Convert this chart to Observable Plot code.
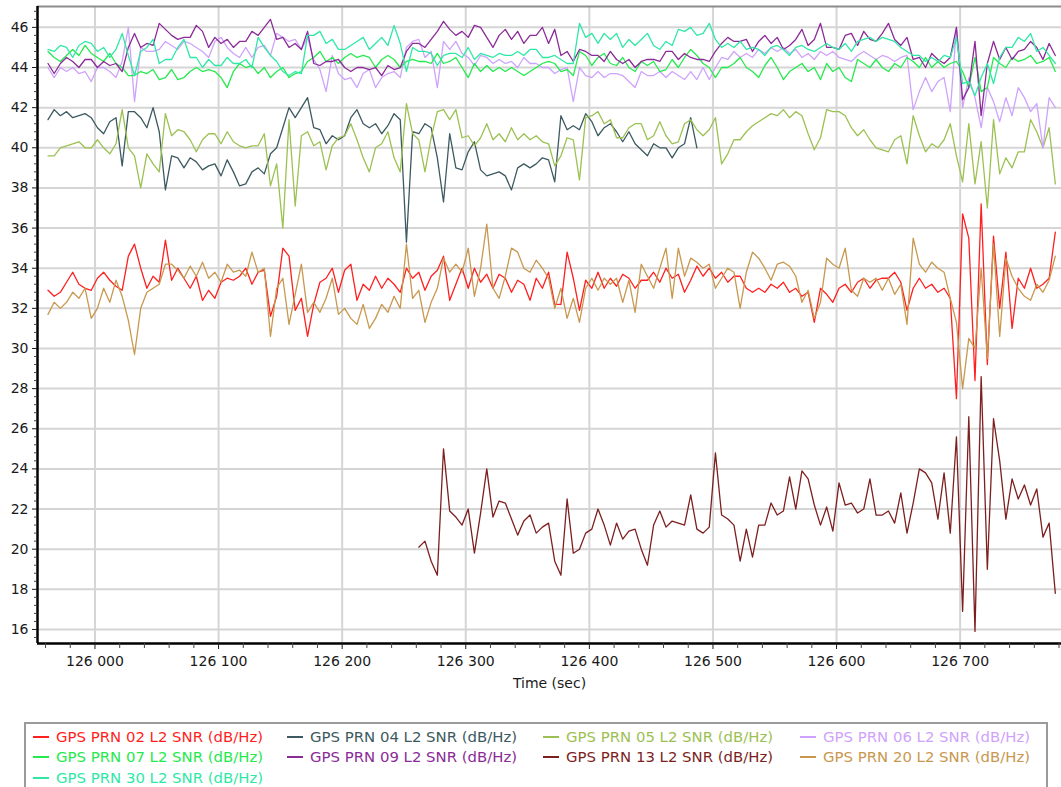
<!DOCTYPE html>
<html>
<head>
<meta charset="utf-8">
<script src="https://cdn.jsdelivr.net/npm/d3@7"></script>
<script src="https://cdn.jsdelivr.net/npm/@observablehq/plot@0.6"></script>
<style>
  html, body { margin: 0; padding: 0; background: #fff; }
  body { width: 1061px; height: 787px; overflow: hidden; position: relative; font-family: "DejaVu Sans", Verdana, sans-serif; }
  #chart svg { display: block; }
  #legend { position: absolute; left: 24px; top: 722px; width: 1024px; height: 80px; border: 2px solid #9a9a9a; box-sizing: border-box; }
  .item { position: absolute; font-size: 14.9px; white-space: nowrap; line-height: 18px; }
  .item .sw { display: inline-block; width: 16px; height: 2px; vertical-align: middle; margin-right: 7px; position: relative; top: -1px; }
</style>
</head>
<body>
<div id="chart"></div>
<div id="legend"></div>
<script>
// ---- data (sampled every 5 s starting at t0) ----
const t0 = 125962;
const dt = 5;
const seriesNames = [
  "GPS PRN 02 L2 SNR (dB/Hz)", "GPS PRN 04 L2 SNR (dB/Hz)", "GPS PRN 05 L2 SNR (dB/Hz)",
  "GPS PRN 06 L2 SNR (dB/Hz)", "GPS PRN 07 L2 SNR (dB/Hz)", "GPS PRN 09 L2 SNR (dB/Hz)",
  "GPS PRN 13 L2 SNR (dB/Hz)", "GPS PRN 20 L2 SNR (dB/Hz)", "GPS PRN 30 L2 SNR (dB/Hz)"
];
const seriesColors = ["#ff1f1f", "#3c5a60", "#9cc152", "#cfa3fb", "#24ea4e", "#8b2b98", "#7d1f1f", "#c9984f", "#30e8a6"];
const seriesStartIndex = [0, 0, 0, 0, 0, 0, 60, 0, 0];

const prn02 = [
  32.9,32.6,32.8,33.3,33.8,33.2,33.0,32.9,33.5,33.8,
  33.4,33.1,32.9,34.6,35.2,34.0,33.0,33.6,33.3,35.4,
  33.4,34.0,33.5,33.0,33.6,32.4,32.9,32.5,33.3,33.5,
  33.4,33.6,34.0,33.2,33.8,33.9,31.6,32.6,35.0,34.6,
  31.9,32.5,30.6,32.2,33.3,33.5,34.0,32.8,33.9,34.2,
  32.4,33.2,32.9,33.6,33.0,33.5,33.2,32.8,34.0,33.5,
  33.8,32.9,33.6,33.9,34.6,32.4,33.2,34.0,33.0,34.0,
  33.3,33.7,33.0,33.7,33.5,32.8,33.4,33.2,32.4,33.5,
  33.0,33.8,32.2,32.2,34.8,33.5,31.9,33.4,33.0,33.8,
  33.0,33.5,33.1,33.7,33.5,33.0,33.4,33.4,33.8,33.3,
  34.0,33.5,33.7,32.8,33.4,34.1,33.6,34.0,33.5,33.8,
  33.3,33.6,33.6,33.0,32.8,33.0,32.8,33.2,33.0,33.3,
  32.8,33.0,32.6,32.8,31.3,33.0,32.7,32.3,33.0,33.2,
  32.8,33.3,33.5,33.0,33.4,33.5,33.5,33.8,33.3,31.9,
  33.0,33.5,33.0,33.2,32.8,33.0,32.5,27.5,36.7,35.5,
  28.4,37.2,29.2,35.6,32.0,34.8,31.0,33.5,33.0,34.0,
  33.0,33.2,33.5,35.8
];
const prn04 = [
  41.4,41.9,41.6,41.8,41.5,41.6,41.7,41.5,41.0,40.7,
  41.3,41.5,39.1,41.8,41.8,41.5,41.0,42.0,40.8,37.9,
  39.6,39.5,39.0,39.5,39.3,38.9,39.1,39.2,38.6,39.4,
  38.8,38.1,38.2,38.8,39.0,38.7,39.7,40.0,41.0,42.0,
  41.5,42.0,42.5,41.0,40.9,40.2,40.6,40.4,40.6,41.5,
  41.9,41.2,41.0,41.2,40.7,41.1,41.7,41.4,35.3,40.8,
  40.7,41.2,41.0,39.5,37.3,40.7,39.0,38.9,39.8,40.3,
  38.9,38.6,38.7,38.8,38.6,37.9,39.0,39.2,39.0,39.2,
  39.5,39.4,38.3,41.6,40.9,41.1,40.9,41.7,41.3,40.6,
  41.0,41.2,40.8,40.3,40.8,40.2,39.9,39.6,40.2,40.0,
  40.0,39.5,40.0,40.2,41.5,40.0
];
const prn05 = [
  39.6,39.6,40.0,40.1,40.2,40.3,40.0,40.0,40.4,40.0,
  39.7,40.2,41.9,40.0,39.6,38.0,39.7,39.2,38.8,41.7,
  40.6,40.9,40.8,40.4,39.8,40.4,40.7,40.7,40.2,40.8,
  40.3,40.1,40.0,40.1,40.1,40.7,38.1,39.2,36.0,41.4,
  37.1,40.6,40.8,40.1,40.3,38.9,40.1,40.5,40.6,41.2,
  40.4,39.5,38.8,40.0,40.2,40.8,39.5,38.8,42.2,40.7,
  40.4,38.8,40.5,41.8,41.9,41.4,41.9,40.5,40.6,40.1,
  40.5,41.2,40.4,40.7,40.3,41.0,40.4,40.7,40.4,40.6,
  40.3,40.2,39.1,39.6,40.5,40.4,38.4,41.5,41.6,41.8,
  41.2,41.4,40.5,40.5,41.0,41.2,41.2,40.4,40.6,41.3,
  40.6,40.2,40.3,41.2,41.4,40.9,40.6,40.9,41.5,39.2,
  39.7,40.4,40.4,40.8,41.1,41.3,41.5,41.7,41.6,41.9,
  41.5,41.8,41.6,40.7,39.9,40.5,41.9,41.8,41.8,41.6,
  41.0,40.6,40.9,40.4,40.0,39.9,39.8,40.4,40.6,39.2,
  41.6,40.6,39.8,40.2,40.0,40.4,41.2,39.6,38.3,41.2,
  38.2,40.3,37.0,41.4,38.7,39.5,39.0,39.8,39.8,41.4,
  40.8,40.0,41.0,38.2
];
const prn06 = [
  44.0,43.5,44.0,43.8,44.0,43.7,43.8,43.3,44.0,44.0,
  43.8,43.5,44.3,46.0,42.3,45.0,44.8,44.8,44.9,45.3,
  45.1,44.9,45.3,45.2,45.0,44.8,44.5,45.3,45.5,45.0,
  44.7,44.5,45.0,44.5,45.0,45.1,44.6,45.7,45.5,45.3,
  45.4,44.9,45.5,44.4,43.9,42.8,44.6,43.7,43.4,43.5,
  43.0,43.7,43.9,43.0,43.5,43.7,43.8,43.5,45.0,45.3,
  45.4,44.5,44.8,43.0,45.3,44.9,45.3,44.7,44.5,44.1,
  44.6,44.5,44.2,44.4,44.2,44.3,44.0,44.5,44.2,44.2,
  44.0,44.0,43.7,43.9,44.0,42.3,44.0,43.6,43.5,43.8,
  43.5,43.7,43.7,43.6,43.3,43.0,43.8,43.6,43.6,43.8,
  43.5,43.8,43.6,43.4,43.8,43.4,44.0,43.4,44.0,44.5,
  44.4,44.8,44.5,44.7,44.5,44.9,44.7,45.0,44.8,45.0,
  44.7,44.9,44.5,44.7,44.4,44.8,44.6,44.8,44.5,44.4,
  44.3,44.6,44.8,44.6,44.4,44.6,44.5,44.3,44.5,44.6,
  41.9,42.8,43.5,42.8,43.3,43.5,41.8,46.0,42.0,43.5,
  42.5,41.0,43.0,42.3,41.3,42.5,41.6,43.0,42.5,41.8,
  42.2,40.0,42.5,42.0
];
const prn07 = [
  44.8,44.5,44.3,44.6,44.9,44.6,45.1,44.7,44.5,44.3,
  44.7,44.2,44.0,43.6,43.6,43.8,43.7,43.9,43.4,43.5,
  43.9,43.4,43.5,43.8,44.0,43.8,43.9,43.8,43.5,43.0,
  43.8,44.2,44.0,44.1,43.7,44.0,43.5,43.8,44.0,43.5,
  43.7,43.8,44.3,44.5,44.8,44.3,44.5,44.2,44.5,44.7,
  44.5,44.6,44.5,44.0,44.4,44.6,44.4,44.0,44.3,44.4,
  44.3,44.3,44.2,44.7,44.2,44.3,44.5,44.0,43.5,44.2,
  43.8,44.1,43.8,44.0,43.8,44.0,43.8,43.6,43.8,44.0,
  44.2,44.3,44.2,43.8,43.9,43.6,44.8,44.6,44.1,44.5,
  44.7,44.2,44.1,44.5,44.0,43.8,44.3,44.1,44.3,43.8,
  43.9,44.4,44.0,44.5,44.9,44.6,44.2,44.0,43.5,44.0,
  44.0,44.2,44.5,44.0,43.8,43.5,44.1,44.5,44.0,43.4,
  43.8,44.0,44.2,43.8,44.0,43.4,44.2,43.8,44.0,43.5,
  43.3,44.4,44.2,44.0,44.4,44.0,43.8,44.2,44.0,44.5,
  44.3,44.0,44.5,44.0,44.3,44.0,44.2,44.3,43.8,43.0,
  44.5,42.8,43.0,44.5,44.2,44.0,44.5,44.3,44.4,44.6,
  44.2,44.3,44.5,43.8
];
const prn09 = [
  44.2,43.7,44.2,44.5,44.3,44.0,44.4,44.4,44.0,44.3,
  44.1,44.2,43.8,45.0,45.7,45.0,45.2,45.1,46.2,45.9,
  45.6,45.4,45.5,45.5,46.1,45.8,45.0,45.5,45.2,45.4,
  45.0,45.3,45.3,45.8,45.6,46.0,46.4,45.4,45.5,45.0,
  45.2,44.9,45.8,44.2,44.1,44.3,44.3,44.4,44.0,43.8,
  44.0,44.0,43.9,44.0,43.6,44.1,43.9,44.0,44.8,45.2,
  45.2,45.0,45.4,45.8,46.3,45.9,45.6,45.8,45.5,46.1,
  46.0,45.5,45.0,45.6,45.9,45.4,45.8,45.2,45.6,45.6,
  46.0,45.2,45.9,44.6,44.8,44.3,44.9,44.8,44.6,44.6,
  44.3,44.8,44.4,44.2,44.4,44.0,44.3,44.4,44.4,44.3,
  44.8,44.8,44.4,44.7,44.5,44.4,44.4,44.3,44.8,45.2,
  45.5,45.3,45.3,45.4,44.8,45.3,45.6,45.2,45.5,44.9,
  45.1,45.4,45.9,45.1,45.4,46.2,45.0,45.0,44.9,45.6,
  45.7,45.1,45.8,45.4,45.3,45.7,46.2,45.4,45.1,45.5,
  44.4,44.5,44.0,44.7,44.4,44.2,44.5,46.0,42.4,43.0,
  45.3,41.6,44.2,45.3,44.4,45.0,44.4,44.8,44.9,45.3,
  45.0,44.4,45.2,44.6
];
const prn13 = [
  20.1,20.4,19.4,18.7,25.0,21.9,21.6,21.2,22.0,19.8,
  21.8,24.0,21.6,22.4,22.3,21.5,20.7,21.4,21.7,20.8,
  21.1,21.3,19.4,18.7,22.5,19.8,20.0,20.8,21.0,22.0,
  21.2,20.2,21.3,20.5,20.9,21.0,20.0,19.2,21.2,21.9,
  21.1,21.4,21.3,21.2,22.7,21.0,20.8,21.1,24.8,21.7,
  21.5,21.2,19.4,21.0,19.6,21.2,21.2,22.3,21.7,21.9,
  23.6,22.0,23.9,23.5,22.2,21.2,22.1,20.9,23.3,22.2,
  22.3,21.8,22.0,23.5,21.7,21.7,21.9,21.3,22.8,20.8,
  22.3,24.0,23.8,23.3,21.5,23.8,20.8,25.6,16.9,26.6,
  15.9,28.6,19.0,26.5,24.4,21.5,23.5,22.5,23.2,22.2,
  23.0,20.6,21.3,17.8
];
const prn20 = [
  31.7,32.3,32.0,32.3,32.8,32.5,33.0,31.5,32.0,33.0,
  32.3,33.4,32.6,31.4,29.7,32.0,32.8,33.0,33.2,34.2,
  34.2,33.9,33.5,34.1,33.6,34.3,33.5,33.8,33.3,34.2,
  33.8,33.9,33.6,34.8,33.8,34.0,30.6,33.0,33.5,31.2,
  32.7,34.2,31.8,32.3,31.8,32.5,33.5,31.7,32.0,31.5,
  31.2,32.2,31.0,31.5,32.2,31.8,32.6,32.0,35.2,32.5,
  32.9,31.3,32.3,33.0,34.5,33.8,34.2,33.8,35.0,32.6,
  34.0,36.2,33.0,32.5,33.6,35.0,34.8,34.0,33.8,34.4,
  34.0,33.5,32.0,33.0,31.5,32.5,31.3,33.0,33.5,32.9,
  33.5,33.2,33.5,32.3,33.4,31.8,34.2,33.6,33.0,34.0,
  35.0,32.5,35.0,33.6,34.5,34.3,34.0,34.2,33.0,33.5,
  34.0,33.8,32.0,33.8,34.8,34.5,34.0,33.4,34.2,34.3,
  34.1,33.6,32.3,32.9,31.5,32.3,34.5,34.2,34.0,35.0,
  32.9,32.6,33.5,33.3,33.5,32.9,33.5,32.7,33.2,31.2,
  35.5,34.2,33.8,34.3,34.0,33.8,32.5,31.3,28.0,30.5,
  30.0,34.0,29.5,35.2,30.6,34.5,33.6,33.0,32.6,32.4,
  33.2,32.8,33.4,34.6
];
const prn30 = [
  44.9,44.8,45.1,45.0,44.5,45.1,45.3,45.2,44.8,45.0,
  44.5,44.9,45.7,44.6,43.6,44.8,45.0,45.4,44.2,44.4,
  44.4,45.0,45.4,44.5,44.5,44.0,44.4,44.1,44.1,44.5,
  44.2,44.2,44.4,44.0,45.5,45.0,44.6,44.3,43.8,43.6,
  43.8,43.7,45.6,45.6,45.8,45.2,45.4,44.9,44.9,45.1,
  45.3,45.5,44.9,45.2,45.5,45.1,46.1,45.2,43.8,45.0,
  44.8,44.8,44.7,44.1,44.6,44.7,44.7,44.5,45.0,44.4,
  44.7,44.6,44.5,44.7,44.6,44.6,44.8,44.6,44.9,44.9,
  44.5,44.5,44.6,44.4,44.2,44.2,46.2,45.5,45.7,45.2,
  45.7,45.4,45.7,45.0,45.4,45.1,45.4,45.7,45.1,44.9,
  45.3,45.1,45.9,45.8,46.0,45.6,45.7,46.2,45.4,45.0,
  45.2,45.0,45.3,44.9,45.0,44.9,44.6,45.0,45.1,44.9,
  44.6,45.0,45.1,44.9,44.8,45.0,45.2,45.0,44.9,45.2,
  44.8,45.3,45.4,45.5,45.3,45.5,45.4,45.3,45.0,44.8,
  44.6,44.6,44.3,44.5,44.3,44.6,44.5,45.5,43.2,43.3,
  42.6,43.5,44.2,43.2,44.5,45.0,45.0,45.5,45.3,45.7,
  44.8,45.0,44.6,44.2
];
const seriesValues = [prn02, prn04, prn05, prn06, prn07, prn09, prn13, prn20, prn30];

const xTickValues = [126000, 126100, 126200, 126300, 126400, 126500, 126600, 126700];
const yTickValues = [16, 18, 20, 22, 24, 26, 28, 30, 32, 34, 36, 38, 40, 42, 44, 46];
const xDomain = [125953.5, 126782];
const yDomain = [15.3, 47.04];

// ---- build table ----
const rows = [];
seriesNames.forEach((name, k) => {
  seriesValues[k].forEach((v, i) => {
    rows.push({t: t0 + (seriesStartIndex[k] + i) * dt, v, name});
  });
});

const xMinor = d3.range(125960, 126782, 20).filter(d => !xTickValues.includes(d));
const yMinor = d3.range(15.6, 47.0, 0.4).map(d => +d.toFixed(1)).filter(d => !yTickValues.includes(d));
const fmtX = d => String(d).replace(/(\d{3})$/, " $1");

const chart = Plot.plot({
  width: 1061,
  height: 712,
  marginLeft: 37,
  marginRight: 0,
  marginTop: 6,
  marginBottom: 69,
  style: {fontFamily: "DejaVu Sans, Verdana, sans-serif", fontSize: "14px", color: "#1a1a1a", background: "#fff"},
  x: {domain: xDomain, label: null},
  y: {domain: yDomain, label: null},
  color: {domain: seriesNames, range: seriesColors},
  marks: [
    Plot.gridY({ticks: yTickValues, stroke: "#d5d5d5", strokeWidth: 2, strokeOpacity: 1}),
    Plot.gridX({ticks: xTickValues, stroke: "#d5d5d5", strokeWidth: 2, strokeOpacity: 1}),
    Plot.ruleY([yDomain[1]], {stroke: "#8c8c8c", strokeWidth: 2}),
    Plot.lineY(rows, {x: "t", y: "v", z: "name", stroke: "name", strokeWidth: 1.3, clip: true}),
    Plot.ruleX([xDomain[0]], {stroke: "#000", strokeWidth: 2.5}),
    Plot.ruleY([yDomain[0]], {stroke: "#000", strokeWidth: 2.5}),
    Plot.axisY({ticks: yMinor, tickSize: 3, tickFormat: () => "", label: null, stroke: "#444"}),
    Plot.axisY({ticks: yTickValues, tickSize: 5, tickPadding: 4, tickFormat: d => String(d), label: null}),
    Plot.axisX({ticks: xMinor, tickSize: 5, tickFormat: () => "", label: null, stroke: "#444"}),
    Plot.axisX({ticks: xTickValues, tickSize: 6, tickPadding: 7, tickFormat: fmtX, label: "Time (sec)", labelAnchor: "center", labelArrow: "none", labelOffset: 44})
  ]
});
document.getElementById("chart").appendChild(chart);

// ---- legend ----
const legend = document.getElementById("legend");
const colX = [7, 261, 517, 774];
const rowY = [4, 24, 45];
seriesNames.forEach((name, k) => {
  const el = document.createElement("div");
  el.className = "item";
  el.style.left = colX[k % 4] + "px";
  el.style.top = rowY[Math.floor(k / 4)] + "px";
  el.style.color = seriesColors[k];
  el.innerHTML = `<span class="sw" style="background:${seriesColors[k]}"></span>${name}`;
  legend.appendChild(el);
});
</script>
</body>
</html>
